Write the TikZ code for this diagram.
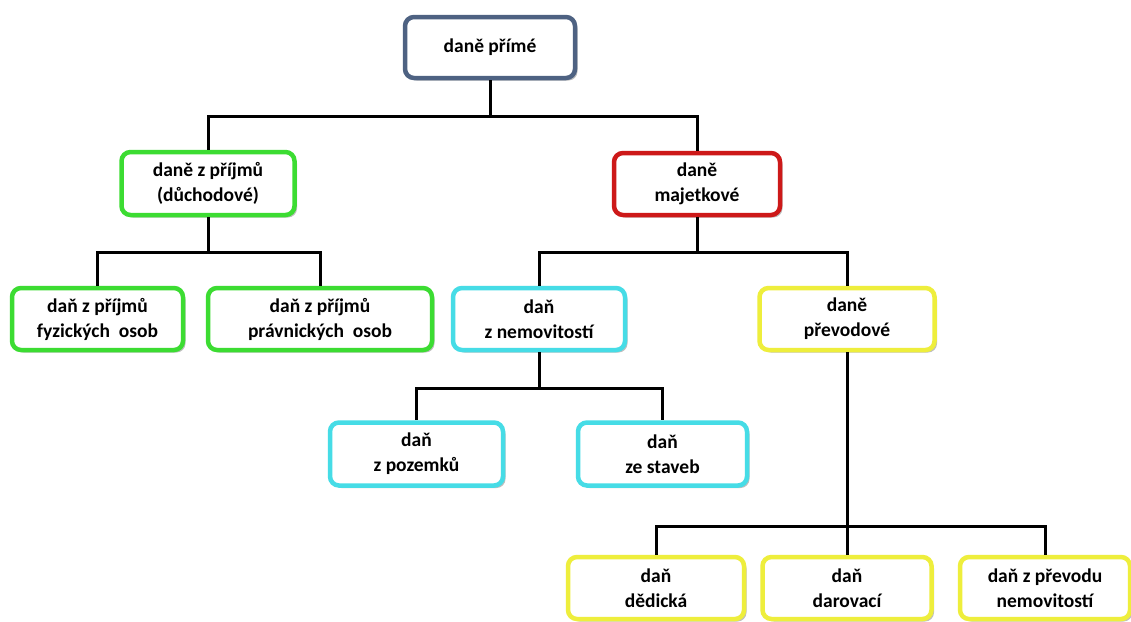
\documentclass[tikz,border=0pt]{standalone}
\usepackage{fontspec}
\setmainfont{Carlito}
\usetikzlibrary{shadows}
\definecolor{cslate}{RGB}{78,98,130}
\definecolor{cgreen}{RGB}{60,220,50}
\definecolor{cred}{RGB}{205,25,25}
\definecolor{ccyan}{RGB}{70,220,230}
\definecolor{cyell}{RGB}{238,238,60}
\tikzset{
  box/.style={draw, line width=4.5pt, rounded corners=9pt, fill=white,
    align=center, font=\fontsize{19.5}{25}\selectfont\bfseries, inner sep=0pt,
    drop shadow={shadow xshift=2.5pt, shadow yshift=-2.5pt, fill=black, opacity=0.25}},
  conn/.style={line width=3pt, black},
}
\begin{document}
\begin{tikzpicture}[x=1pt, y=-1pt]
\useasboundingbox (0,0) rectangle (1131,621);
\fill[white] (0,0) rectangle (1131,621);
\node[box, draw=cslate, minimum width=170pt, minimum height=61pt] (top) at (490,47.5) {daně přímé};
\node[box, draw=cgreen, minimum width=173pt, minimum height=63pt] (prij) at (208,183.5) {daně z příjmů\\(důchodové)};
\node[box, draw=cred, minimum width=166pt, minimum height=62pt] (maj) at (697,184) {daně\\majetkové};
\node[box, draw=cgreen, minimum width=171pt, minimum height=62pt] (fyz) at (97.5,319) {daň z příjmů\\fyzických\ \ osob};
\node[box, draw=cgreen, minimum width=224pt, minimum height=62pt] (prav) at (320,319) {daň z příjmů\\právnických\ \ osob};
\node[box, draw=ccyan, minimum width=172pt, minimum height=62pt] (nem) at (539,319) {daň\\z nemovitostí};
\node[box, draw=cyell, minimum width=175pt, minimum height=62pt] (prev) at (847,319) {daně\\převodové};
\node[box, draw=ccyan, minimum width=173pt, minimum height=63pt] (poz) at (416.5,454) {daň\\z pozemků};
\node[box, draw=ccyan, minimum width=169pt, minimum height=63pt] (stav) at (662.5,454) {daň\\ze staveb};
\node[box, draw=cyell, minimum width=176pt, minimum height=62pt] (ded) at (656,588) {daň\\dědická};
\node[box, draw=cyell, minimum width=169pt, minimum height=62pt] (dar) at (847,588) {daň\\darovací};
\node[box, draw=cyell, minimum width=170pt, minimum height=62pt] (pnem) at (1045,588) {daň z převodu\\nemovitostí};
\draw[conn] (top.south) -- (top.south |- 0,116) -| (prij.north);
\draw[conn] (top.south |- 0,116) -| (maj.north);
\draw[conn] (prij.south) -- (prij.south |- 0,252) -| (fyz.north);
\draw[conn] (prij.south |- 0,252) -| (prav.north);
\draw[conn] (maj.south) -- (maj.south |- 0,252) -| (nem.north);
\draw[conn] (maj.south |- 0,252) -| (prev.north);
\draw[conn] (nem.south) -- (nem.south |- 0,388) -| (poz.north);
\draw[conn] (nem.south |- 0,388) -| (stav.north);
\draw[conn] (prev.south) -- (dar.north);
\draw[conn] (prev.south |- 0,526) -| (ded.north);
\draw[conn] (prev.south |- 0,526) -| (pnem.north);
\end{tikzpicture}
\end{document}
